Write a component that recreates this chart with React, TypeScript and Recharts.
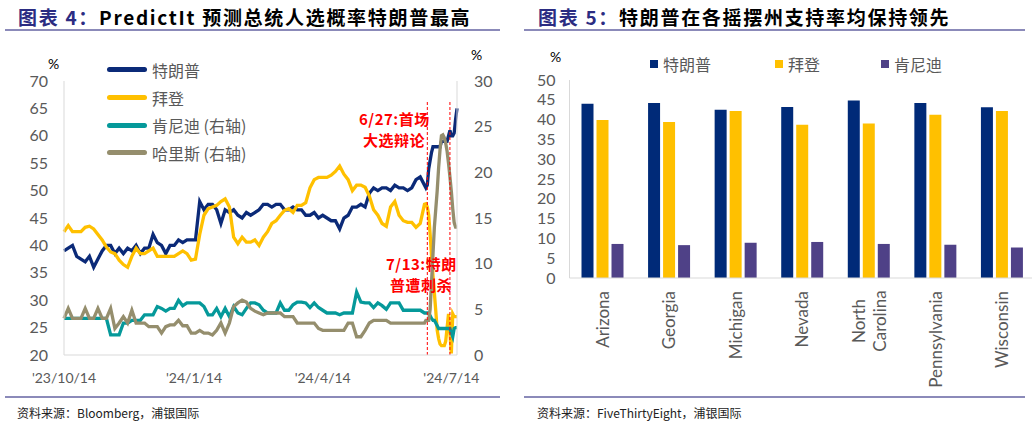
import React from 'react';
import { LineChart, Line, BarChart, Bar, XAxis, YAxis, ReferenceLine, Legend } from 'recharts';

// left chart: PredictIt prices, x = days since 2023-10-14
const DAYS = [
  0, 3, 6, 9, 12, 15, 18, 21, 24, 27, 30, 33, 36, 39, 42, 45, 48, 51, 54, 57,
  60, 63, 66, 69, 72, 75, 78, 81, 84, 87, 90, 93, 96, 99, 102, 105, 108, 111, 114, 117,
  120, 123, 126, 129, 132, 135, 138, 141, 144, 147, 150, 153, 156, 159, 162, 165, 168, 171, 174, 177,
  180, 183, 186, 189, 192, 195, 198, 201, 204, 207, 210, 213, 216, 219, 222, 225, 228, 231, 234, 237,
  240, 243, 246, 249, 252, 255, 256, 257, 258, 259, 260, 261, 262, 263, 264, 265, 266, 267, 268, 269,
  270, 271, 272, 273, 274, 275, 276, 277, 278,
];
const TRUMP = [
  39, 39.5, 40, 38, 37.5, 37, 38, 36, 37.5, 39, 40, 40, 38.5, 39.5, 38.5, 39.5, 39, 40, 38.5, 39.5,
  39.5, 42, 40.5, 40, 38.5, 40, 40, 41, 40.5, 41, 41, 41, 48, 46.5, 47.5, 47.5, 46.5, 44, 46.5, 46,
  46.5, 45.5, 45, 46, 45.5, 46, 46.5, 47.5, 47.5, 47, 47.5, 47.5, 46.5, 46.5, 47, 46.5, 46.5, 45.5, 45.5, 46,
  45, 45.5, 45, 44.5, 44.5, 43, 45, 45.5, 47, 47, 47.5, 47, 49.5, 50.5, 50, 50.5, 50.5, 50, 51, 50.5,
  50.5, 50, 50.5, 52, 52.5, 51, 50.5, 51, 54, 55.5, 57, 58, 58, 58, 58, 58, 58, 59, 59, 59,
  59, 59, 60, 61, 60, 60, 60.5, 63, 65,
];
const BIDEN = [
  42.5, 43.6, 42.5, 42.5, 42.5, 43.3, 43.5, 43, 42, 41, 39.7, 38.8, 38.5, 37.3, 36.5, 36, 38, 39.5, 38.5, 38.5,
  39, 39.5, 38, 38, 38, 38, 38, 38.5, 39, 38.5, 37.3, 37.5, 42, 45.5, 46.7, 47, 47.3, 48, 48.5, 47,
  41.5, 40.3, 41.5, 40.6, 40.6, 41, 40, 41.5, 42.5, 44, 44.5, 45.5, 46.4, 46.7, 46, 47.3, 47.3, 47.8, 50.5, 52,
  52.4, 52.4, 52.4, 52.8, 53.5, 54.5, 53, 52, 50, 51, 51, 50.6, 49, 46.5, 45.5, 44, 43.5, 47, 48, 45.5,
  44.5, 44.2, 44.2, 43.3, 44, 47.5, 47.6, 47, 45.5, 42, 38, 34.5, 31.3, 28, 24.5, 23, 22, 21.7, 21.7, 21.7,
  22.5, 25, 27.5, 24, 20.3, 27.5, 27, 27, 27,
];
const KENNEDY = [
  4, 4, 4, 4, 4, 4, 4, 4, 4, 4, 4, 2.2, 2.2, 2.2, 3.5, 3.5, 3.8, 3.8, 3.8, 4.4,
  4.4, 4.4, 5.3, 5.1, 4.8, 5.1, 5.1, 6, 5.4, 5.7, 5.7, 5.7, 5.7, 5.3, 4.4, 4.4, 5.1, 4.2, 5.1, 4.2,
  5.3, 4.6, 4.4, 5.1, 5.7, 5.7, 5.5, 4.9, 4.6, 4.6, 4.6, 5.7, 4.9, 4.9, 5.5, 5.8, 5.8, 5.7, 5.2, 5.7,
  5.2, 4.9, 4.6, 4.6, 4.6, 4.4, 4.6, 4.6, 4.6, 6.9, 5.8, 5.7, 5.7, 5.2, 5.7, 5.4, 5, 5.7, 5.7, 5.7,
  4.9, 4.9, 4.9, 4.9, 4.9, 4.6, 4.6, 4.6, 4.6, 4.3, 4, 3.8, 3.8, 3.5, 3.2, 2.9, 2.9, 2.9, 2.9, 2.9,
  2.9, 2.9, 2.9, 2.9, 2.4, 2, 2.9, 3, 3,
];
const HARRIS = [
  4, 5.1, 4, 4, 4, 5.1, 4, 4, 5.1, 4, 4, 5.1, 2.9, 3.5, 4.2, 3.5, 4.9, 3.5, 3.5, 3.5,
  3.1, 3.1, 3.1, 2.4, 3.1, 3.3, 3.3, 3.8, 3.2, 3.2, 2.4, 2.4, 2.7, 2.4, 2.4, 2.2, 2.7, 3.5, 2.4, 3.5,
  5.3, 5.7, 6, 5.8, 5.1, 4.8, 4.6, 4.4, 4.6, 4.6, 4.6, 4.6, 4.2, 4.2, 4.2, 3.5, 3.5, 3.5, 3.5, 3.5,
  2.9, 2.7, 2.7, 2.7, 2.7, 2.7, 2.7, 3.5, 3.5, 2, 2, 2.7, 3.5, 3.8, 3.8, 3.8, 3.8, 3.5, 3.5, 3.5,
  3.5, 3.5, 3.5, 3.5, 3.5, 3.5, 3.8, 3.8, 3.8, 5, 8, 11, 14, 16, 18, 20.5, 22.5, 24, 24.1, 23.8,
  23.2, 22.3, 21, 19.5, 17.9, 16, 14.5, 14, 14,
];
const X_TICKS = [0, 92, 183, 274];
const X_TICK_LABELS = ["'23/10/14", "'24/1/14", "'24/4/14", "'24/7/14"];
const LEFT_TICKS = [20, 25, 30, 35, 40, 45, 50, 55, 60, 65, 70];
const RIGHT_TICKS = [0, 5, 10, 15, 20, 25, 30];
const EVENT_DAYS = [257, 273]; // 6/27 debate, 7/13 shooting

// right chart: FiveThirtyEight swing state polls
const STATES = ['Arizona', 'Georgia', 'Michigan', 'Nevada', 'North Carolina', 'Pennsylvania', 'Wisconsin'];
const STATE_TRUMP = [44.0, 44.2, 42.5, 43.2, 44.8, 44.2, 43.1];
const STATE_BIDEN = [39.9, 39.4, 42.2, 38.7, 39.0, 41.2, 42.2];
const STATE_KENNEDY = [8.6, 8.3, 8.9, 9.1, 8.6, 8.4, 7.7];
const BAR_TICKS = [0, 5, 10, 15, 20, 25, 30, 35, 40, 45, 50];

const NUM_FONT = 'Lato, "Noto Sans", sans-serif';
const CJK_FONT = '"Noto Sans CJK SC", sans-serif';
const AXIS_GREY = '#595959';
const RULE = '#8b8ab9';

const lineData = DAYS.map((d, i) => ({
  day: d,
  trump: TRUMP[i],
  biden: BIDEN[i],
  kennedy: KENNEDY[i],
  harris: HARRIS[i],
}));

const barData = STATES.map((s, i) => ({
  state: s,
  trump: STATE_TRUMP[i],
  biden: STATE_BIDEN[i],
  kennedy: STATE_KENNEDY[i],
}));

const LINE_SERIES = [
  { key: 'trump', label: '特朗普', color: '#0b2a78', axis: 'left' },
  { key: 'biden', label: '拜登', color: '#ffc000', axis: 'left' },
  { key: 'kennedy', label: '肯尼迪 (右轴)', color: '#05999a', axis: 'right' },
  { key: 'harris', label: '哈里斯 (右轴)', color: '#958e6d', axis: 'right' },
];

const BAR_SERIES = [
  { key: 'trump', label: '特朗普', color: '#002a78' },
  { key: 'biden', label: '拜登', color: '#ffc000' },
  { key: 'kennedy', label: '肯尼迪', color: '#4f4187' },
];

const LineLegend = () => (
  <div style={{ fontFamily: CJK_FONT, fontSize: 16, color: AXIS_GREY }}>
    {LINE_SERIES.map(s => (
      <div key={s.key} style={{ display: 'flex', alignItems: 'center', height: 27.7, whiteSpace: 'nowrap' }}>
        <span style={{ width: 40, height: 5, background: s.color, borderRadius: 2.5, marginRight: 5 }} />
        <span>{s.label}</span>
      </div>
    ))}
  </div>
);

const BarLegend = () => (
  <div style={{ fontFamily: CJK_FONT, fontSize: 16, color: AXIS_GREY, position: 'relative', height: 20 }}>
    {BAR_SERIES.map((s, i) => (
      <div key={s.key} style={{ position: 'absolute', left: [0, 125, 231][i], top: 0, display: 'flex', alignItems: 'center', height: 20 }}>
        <span style={{ width: 8, height: 8, background: s.color, marginRight: 5 }} />
        <span>{s.label}</span>
      </div>
    ))}
  </div>
);

const StateTick = ({ x, y, payload }: any) => {
  const lines = String(payload.value).split(' ');
  if (lines.length === 1) {
    return (
      <text x={x} y={y} dy="0.35em" textAnchor="end" transform={`rotate(-90, ${x}, ${y})`}
        fill={AXIS_GREY} fontSize={17} fontFamily={NUM_FONT}>
        {payload.value}
      </text>
    );
  }
  const cy = y + 30;
  return (
    <g>
      {lines.map((l, i) => {
        const lx = x + (i - (lines.length - 1) / 2) * 21;
        return (
          <text key={l} x={lx} y={cy} dy="0.35em" textAnchor="middle" transform={`rotate(-90, ${lx}, ${cy})`}
            fill={AXIS_GREY} fontSize={17} fontFamily={NUM_FONT}>
            {l}
          </text>
        );
      })}
    </g>
  );
};

const titleStyle: React.CSSProperties = {
  position: 'absolute', top: 3, fontFamily: CJK_FONT, fontWeight: 700, fontSize: 19,
  letterSpacing: 1.7, color: '#000', whiteSpace: 'nowrap',
};
const sourceStyle: React.CSSProperties = {
  position: 'absolute', top: 404, fontFamily: CJK_FONT, fontSize: 12, color: '#222', whiteSpace: 'nowrap',
};
const noteStyle: React.CSSProperties = {
  position: 'absolute', fontFamily: CJK_FONT, fontWeight: 700, fontSize: 15, color: '#ff0000',
  lineHeight: '21px', whiteSpace: 'nowrap', letterSpacing: 0.5,
};
const rule = (left: number, top: number, width: number): React.CSSProperties => ({
  position: 'absolute', left, top, width, height: 2, background: RULE,
});

export default function App() {
  return (
    <div style={{ position: 'fixed', left: 0, top: 0, width: 1032, height: 424, overflow: 'hidden', background: '#fff' }}>
      {/* left panel */}
      <div style={{ ...titleStyle, left: 18 }}>
        <span style={{ color: '#2b2c82' }}>图表 4：</span>PredictIt 预测总统人选概率特朗普最高
      </div>
      <div style={rule(5, 29, 495)} />
      <div style={{ position: 'absolute', left: 48, top: 55, fontFamily: NUM_FONT, fontSize: 14, color: '#000' }}>%</div>
      <div style={{ position: 'absolute', left: 471, top: 46, fontFamily: NUM_FONT, fontSize: 14, color: '#000' }}>%</div>
      <div style={{ position: 'absolute', left: 0, top: 0 }}>
        <LineChart width={520} height={400} data={lineData} margin={{ top: 81, right: 23, bottom: 20, left: 24 }}>
          <XAxis dataKey="day" type="number" domain={[0, 278]} ticks={X_TICKS}
            tickFormatter={(v: number) => X_TICK_LABELS[X_TICKS.indexOf(v)]}
            height={25} tickLine={false} tickMargin={12} stroke="#d9d9d9"
            tick={{ fill: AXIS_GREY, fontSize: 14, fontFamily: NUM_FONT }} />
          <YAxis yAxisId="left" domain={[20, 70]} ticks={LEFT_TICKS} width={40} tickLine={false}
            tickMargin={10} stroke="#d9d9d9" interval={0}
            tick={{ fill: AXIS_GREY, fontSize: 16, fontFamily: NUM_FONT }} />
          <YAxis yAxisId="right" orientation="right" domain={[0, 30]} ticks={RIGHT_TICKS} width={40}
            tickLine={false} tickMargin={11} stroke="#d9d9d9" interval={0}
            tick={{ fill: AXIS_GREY, fontSize: 16, fontFamily: NUM_FONT, textAnchor: 'start' }} />
          <Legend layout="vertical" align="center" verticalAlign="middle" content={<LineLegend />}
            wrapperStyle={{ left: 107, top: 56, width: 200 }} />
          {LINE_SERIES.map(s => (
            <Line key={s.key} yAxisId={s.axis} type="linear" dataKey={s.key} stroke={s.color}
              strokeWidth={3.3} dot={false} isAnimationActive={false} />
          ))}
          {EVENT_DAYS.map(d => (
            <ReferenceLine key={d} yAxisId="left" segment={[{ x: d, y: 20 }, { x: d, y: 66.5 }]}
              stroke="#ff0000" strokeWidth={1} strokeDasharray="3 2" />
          ))}
        </LineChart>
      </div>
      <div style={{ ...noteStyle, left: 359, top: 108 }}>6/27:首场<br />&nbsp;大选辩论</div>
      <div style={{ ...noteStyle, left: 386, top: 253 }}>7/13:特朗<br />&nbsp;普遭刺杀</div>
      <div style={rule(5, 396, 495)} />
      <div style={{ ...sourceStyle, left: 17 }}>资料来源：Bloomberg，浦银国际</div>

      {/* right panel */}
      <div style={{ ...titleStyle, left: 538 }}>
        <span style={{ color: '#2b2c82' }}>图表 5：</span>特朗普在各摇摆州支持率均保持领先
      </div>
      <div style={rule(524, 29, 501)} />
      <div style={{ position: 'absolute', left: 550, top: 48, fontFamily: NUM_FONT, fontSize: 14, color: '#000' }}>%</div>
      <div style={{ position: 'absolute', left: 520, top: 0 }}>
        <BarChart width={530} height={400} data={barData} barSize={12} barGap={3}
          margin={{ top: 80, right: 14.5, bottom: 12, left: 9.5 }}>
          <XAxis dataKey="state" height={110} tickLine={false} tickMargin={7} stroke="#d9d9d9"
            interval={0} tick={<StateTick />} />
          <YAxis domain={[0, 50]} ticks={BAR_TICKS} width={40} tickLine={false} tickMargin={8}
            stroke="#d9d9d9" interval={0}
            tick={{ fill: AXIS_GREY, fontSize: 16, fontFamily: NUM_FONT }} />
          <Legend layout="vertical" align="center" verticalAlign="middle" content={<BarLegend />}
            wrapperStyle={{ left: 130, top: 54, width: 340 }} />
          {BAR_SERIES.map(s => (
            <Bar key={s.key} dataKey={s.key} fill={s.color} isAnimationActive={false} />
          ))}
        </BarChart>
      </div>
      <div style={rule(524, 396, 501)} />
      <div style={{ ...sourceStyle, left: 537 }}>资料来源：FiveThirtyEight，浦银国际</div>
    </div>
  );
}
